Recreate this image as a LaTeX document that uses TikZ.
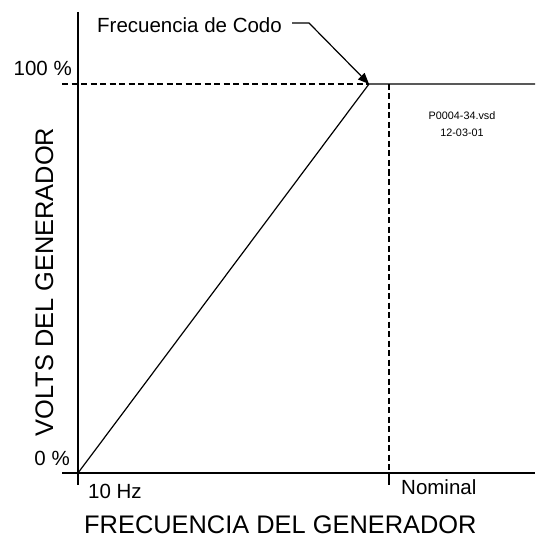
\documentclass[tikz,border=0pt]{standalone}
\usepackage{fontspec}
\setmainfont{Liberation Sans}
\usetikzlibrary{arrows.meta}
\tikzset{
  axisline/.style={line width=1.6pt},
  guideline/.style={line width=1.3pt, dash pattern=on 6pt off 3.5pt},
  bigtext/.style={font=\fontsize{25.4}{28}\selectfont, inner sep=0pt},
  ticktext/.style={font=\fontsize{20.5}{23}\selectfont, inner sep=0pt},
  smalltext/.style={font=\fontsize{10.8}{17}\selectfont, inner sep=0pt, align=center}
}

\begin{document}
\begin{tikzpicture}[x=1pt, y=-1pt]
			%%%%% START %%%%%
			\useasboundingbox (0, 0) rectangle (535, 540);
			
			\coordinate (origin) at (78, 473);
			\coordinate (knee) at (369, 84);
			\coordinate (nominal) at (389, 473);
			
			% axes
			\draw[axisline] (78, 12) -- (78, 485);
			\draw[axisline] (62, 473) -- (535, 473);
			
			% curve
			\draw[line width=1.2pt] (origin) -- (knee) -- (535, 84);
			\draw[guideline] (62, 84) -- (knee);
			\draw[guideline] (nominal |- knee) -- (nominal);
			\draw[line width=1.2pt] (nominal) -- ++(0, 12);
			
			% labels
			\node[ticktext, anchor=base east] (full) at (72, 76) {100 \%};
			\node[ticktext, anchor=base east] (zero) at (70, 465) {0 \%};
			\node[ticktext, anchor=base west] (low) at (88, 498) {10 Hz};
			\node[ticktext, anchor=base west] (nom) at (401, 494) {Nominal};
			\node[bigtext, anchor=base west] (xlabel) at (84, 533) {FRECUENCIA DEL GENERADOR};
			\node[bigtext, rotate=90, anchor=base] (ylabel) at (53, 282) {VOLTS DEL GENERADOR};
			\node[smalltext, anchor=base] (fileid) at (462, 137) {P0004-34.vsd\\12-03-01};
			
			% knee callout
			\node[ticktext, anchor=base east] (kneetext) at (282, 33) {Frecuencia de Codo};
			\draw[line width=1.2pt, -{Triangle[length=11pt, width=9pt]}] (292, 23) -- (309, 23) -- (knee);
			%%%%% END %%%%%
		\end{tikzpicture}
\end{document}
